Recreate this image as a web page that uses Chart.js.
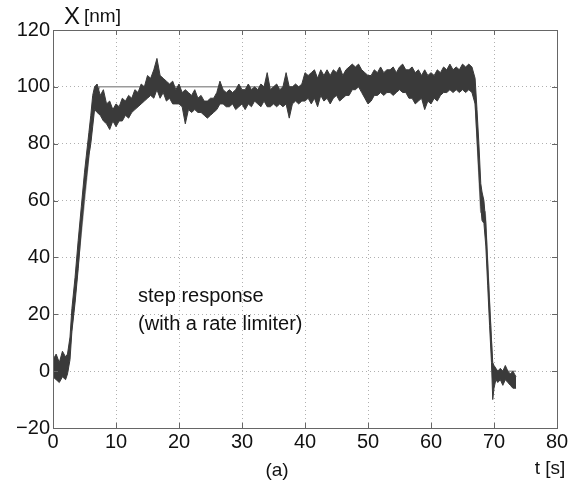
<!DOCTYPE html>
<html lang="en">
<head>
    <meta charset="UTF-8">
    <title>Step response</title>
    <script src="https://cdn.jsdelivr.net/npm/chart.js"></script>
    <style>
        html, body { margin: 0; padding: 0; background: #fff; }
        #box { width: 583px; height: 483px; }
    </style>
</head>
<body>
<div id="box"><canvas id="stepChart"></canvas></div>
<script>
const time = [0, 0.5, 1, 1.5, 2, 2.3, 2.7, 3, 3.5, 4, 4.5, 5, 5.3, 5.7, 6, 6.3, 6.6, 7, 7.5, 8, 8.5, 9, 9.5, 10,
    10.5, 11, 11.5, 12, 12.5, 13, 13.5, 14, 14.5, 15, 15.5, 16, 16.5, 17, 17.5, 18, 18.5, 19, 19.5, 20,
    20.5, 21, 21.5, 22, 22.5, 23, 23.5, 24, 24.5, 25, 25.5, 26, 26.5, 27, 27.5, 28, 28.5, 29, 29.5, 30,
    30.5, 31, 31.5, 32, 32.5, 33, 33.5, 34, 34.5, 35, 35.5, 36, 36.5, 37, 37.5, 38, 38.5, 39, 39.5, 40,
    40.5, 41, 41.5, 42, 42.5, 43, 43.5, 44, 44.5, 45, 45.5, 46, 46.5, 47, 47.5, 48, 48.5, 49, 49.5, 50,
    50.5, 51, 51.5, 52, 52.5, 53, 53.5, 54, 54.5, 55, 55.5, 56, 56.5, 57, 57.5, 58, 58.5, 59, 59.5, 60,
    60.5, 61, 61.5, 62, 62.5, 63, 63.5, 64, 64.5, 65, 65.5, 66, 66.5, 67, 67.3, 67.6, 67.9, 68.1, 68.4,
    68.7, 69, 69.3, 69.6, 69.8, 70, 70.3, 70.6, 71, 71.4, 71.8, 72.2, 72.6, 73, 73.5];
const upper = [4, 6, 3, 7, 5, 6, 12, 22, 33, 46, 58, 70, 76, 84, 90, 97, 100, 101, 97, 99, 94, 95, 92, 94,
    93, 96, 95, 97, 96, 99, 98, 101, 100, 104, 103, 106, 110, 104, 103, 102, 101, 102, 99, 101,
    98, 99, 98, 97, 99, 96, 97, 95, 95, 96, 96, 98, 102, 99, 98, 99, 98, 99, 101, 99,
    99, 101, 99, 100, 99, 101, 100, 105, 99, 100, 101, 99, 100, 105, 100, 100, 101, 100, 101, 105,
    104, 105, 106, 103, 106, 104, 106, 104, 106, 105, 107, 104, 106, 107, 108, 107, 108, 106, 105, 104,
    104, 106, 105, 107, 105, 106, 106, 107, 105, 107, 108, 106, 106, 107, 105, 106, 104, 106, 104, 105,
    104, 106, 105, 107, 106, 108, 106, 107, 106, 108, 107, 108, 107, 103, 92, 80, 66, 63, 60,
    52, 38, 24, 11, 3, 2, 1, 0, 1, 0, 2, 0, -1, 0, -2];
const lower = [-2, -3, -4, -2, -3, -1, 4, 14, 24, 36, 50, 62, 68, 76, 80, 86, 92, 91, 90, 88, 87, 85, 88, 86,
    88, 88, 90, 89, 91, 92, 93, 94, 95, 96, 97, 96, 99, 96, 98, 95, 96, 94, 94, 94,
    93, 87, 92, 91, 92, 91, 91, 90, 89, 90, 91, 92, 94, 94, 93, 93, 94, 92, 93, 94,
    92, 94, 93, 95, 94, 93, 95, 93, 93, 94, 93, 94, 93, 94, 89, 94, 95, 94, 95, 95,
    96, 94, 96, 93, 97, 95, 96, 94, 96, 97, 95, 96, 97, 97, 99, 99, 100, 98, 96, 94,
    95, 97, 97, 98, 97, 98, 98, 97, 98, 99, 98, 98, 96, 96, 94, 95, 96, 92, 95, 94,
    96, 95, 97, 98, 98, 99, 98, 99, 98, 99, 98, 99, 98, 94, 82, 70, 58, 53, 52,
    44, 30, 16, 3, -10, -6, -3, -4, -3, -5, -3, -4, -5, -6, -6];

// reference input after the rate limiter
const refTime = [0, 2.3, 6.6, 7.4, 66.9, 67.9, 68.6, 69.8, 73.5];
const refValue = [0, 0, 96, 100, 100, 56, 56, 0, 0];

const xTicks = [0, 10, 20, 30, 40, 50, 60, 70, 80];
const yTicks = [-20, 0, 20, 40, 60, 80, 100, 120];

const FONT = '"Liberation Sans", Arial, Helvetica, sans-serif';
const INK = '#3a3a3a';

function toPoints(xs, ys) {
    return xs.map((x, i) => ({ x: x, y: ys[i] }));
}

// axis titles and the annotation
const labelsPlugin = {
    id: 'labels',
    afterDraw(chart) {
        const ctx = chart.ctx;
        const xs = chart.scales.x;
        const ys = chart.scales.y;
        const area = chart.chartArea;
        ctx.save();
        ctx.fillStyle = '#111';
        ctx.textBaseline = 'middle';

        // small inward ticks on the box, MATLAB style
        ctx.strokeStyle = '#666';
        ctx.lineWidth = 1;
        ctx.beginPath();
        xTicks.forEach(v => {
            const p = Math.round(xs.getPixelForValue(v)) + 0.5;
            ctx.moveTo(p, area.bottom); ctx.lineTo(p, area.bottom - 5);
            ctx.moveTo(p, area.top); ctx.lineTo(p, area.top + 5);
        });
        yTicks.forEach(v => {
            const p = Math.round(ys.getPixelForValue(v)) + 0.5;
            ctx.moveTo(area.left, p); ctx.lineTo(area.left + 5, p);
            ctx.moveTo(area.right, p); ctx.lineTo(area.right - 5, p);
        });
        ctx.stroke();

        ctx.textAlign = 'left';
        ctx.font = '24px ' + FONT;
        ctx.fillText('X', 64, 17);
        ctx.font = '19px ' + FONT;
        ctx.fillText('[nm]', 84, 17);

        ctx.textAlign = 'center';
        ctx.fillText('t [s]', 550, 469);
        ctx.fillText('(a)', 277, 471);

        ctx.textAlign = 'left';
        ctx.font = '20px ' + FONT;
        const tx = xs.getPixelForValue(13.5);
        ctx.fillText('step response', tx, ys.getPixelForValue(26.3));
        ctx.fillText('(with a rate limiter)', tx, ys.getPixelForValue(16.5));
        ctx.restore();
    }
};

new Chart(document.getElementById('stepChart'), {
    type: 'line',
    data: {
        datasets: [
            {
                label: 'reference',
                data: toPoints(refTime, refValue),
                borderColor: '#9a9a9a',
                borderWidth: 1.5,
                pointRadius: 0,
                fill: false,
                order: 3
            },
            {
                label: 'lower',
                data: toPoints(time, lower),
                borderColor: INK,
                borderWidth: 1,
                pointRadius: 0,
                fill: false,
                order: 2
            },
            {
                label: 'upper',
                data: toPoints(time, upper),
                borderColor: INK,
                backgroundColor: INK,
                borderWidth: 1,
                pointRadius: 0,
                fill: '-1',
                order: 1
            }
        ]
    },
    options: {
        responsive: true,
        maintainAspectRatio: false,
        animation: false,
        layout: { padding: { left: 0, right: 26, top: 30, bottom: 30 } },
        plugins: {
            legend: { display: false },
            tooltip: { enabled: false }
        },
        scales: {
            x: {
                type: 'linear',
                min: 0,
                max: 80,
                afterBuildTicks: axis => { axis.ticks = xTicks.map(v => ({ value: v })); },
                afterFit: axis => { axis.height = 25; },
                ticks: {
                    color: '#111',
                    font: { family: FONT, size: 20 },
                    padding: 2,
                    maxRotation: 0
                },
                grid: {
                    color: '#b0b0b0',
                    lineWidth: 1,
                    drawTicks: false
                },
                border: { display: true, color: '#666', width: 1, dash: [1, 3] }
            },
            y: {
                min: -20,
                max: 120,
                afterBuildTicks: axis => { axis.ticks = yTicks.map(v => ({ value: v })); },
                afterFit: axis => { axis.width = 53; },
                ticks: {
                    color: '#111',
                    font: { family: FONT, size: 20 },
                    padding: 3,
                    callback: v => (v < 0 ? '\u2212' + Math.abs(v) : v)
                },
                grid: {
                    color: '#b0b0b0',
                    lineWidth: 1,
                    drawTicks: false
                },
                border: { display: true, color: '#666', width: 1, dash: [1, 3] }
            }
        }
    },
    plugins: [labelsPlugin, {
        id: 'frame',
        beforeDraw(chart) {
            const ctx = chart.ctx;
            ctx.save();
            ctx.fillStyle = '#fff';
            ctx.fillRect(0, 0, chart.width, chart.height);
            ctx.restore();
        },
        afterDatasetsDraw(chart) {
            // solid box round the plot area
            const a = chart.chartArea;
            const ctx = chart.ctx;
            ctx.save();
            ctx.strokeStyle = '#666';
            ctx.lineWidth = 1;
            ctx.strokeRect(Math.round(a.left) + 0.5, Math.round(a.top) + 0.5,
                Math.round(a.right - a.left), Math.round(a.bottom - a.top));
            ctx.restore();
        }
    }]
});
</script>
</body>
</html>
